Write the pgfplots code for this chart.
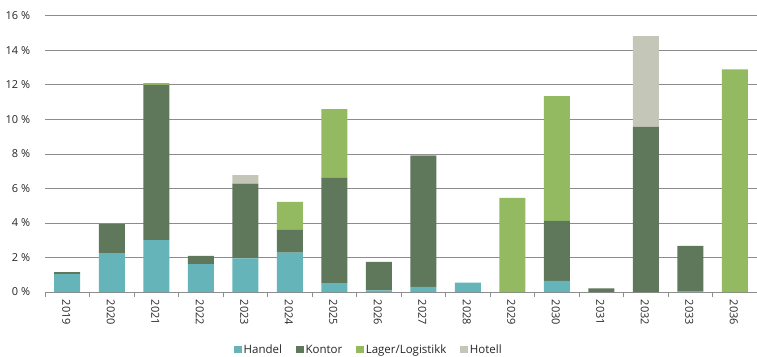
\documentclass[border=0pt]{standalone}
\usepackage{fontspec}
\setmainfont{Open Sans}
\usepackage{pgfplots}
\usepackage{pgfplotstable}
\pgfplotsset{compat=1.18}
\definecolor{handel}{HTML}{64B4B9}
\definecolor{kontor}{HTML}{5F775B}
\definecolor{lager}{HTML}{93BA61}
\definecolor{hotell}{HTML}{C4C6B8}
\definecolor{gridc}{HTML}{8C8C8C}
\pgfplotstableread{
x Handel Kontor Lager Hotell
0 1.04 0.11 0 0
1 2.26 1.68 0 0
2 3.01 9.0 0.1 0
3 1.62 0.47 0 0
4 1.95 4.33 0 0.5
5 2.28 1.32 1.62 0
6 0.48 6.14 3.98 0
7 0.1 1.64 0 0
8 0.3 7.6 0 0.05
9 0.55 0 0 0
10 0 0 5.45 0
11 0.64 3.49 7.23 0
12 0 0.21 0 0
13 0 9.57 0 5.27
14 0.05 2.62 0 0
15 0 0 12.9 0
}\datatable
\begin{document}
\begin{tikzpicture}
\path[use as bounding box] (-45pt,-64pt) rectangle (712pt,292pt);
\begin{axis}[
  scale only axis, width=712pt, height=276pt,
  ybar stacked, bar width=26pt,
  xmin=-0.5, xmax=15.5, ymin=0, ymax=16,
  xtick={0,...,15},
  xticklabels={2019,2020,2021,2022,2023,2024,2025,2026,2027,2028,2029,2030,2031,2032,2033,2036},
  minor xtick={-0.5,0.5,...,15.5},
  ytick={0,2,...,16},
  yticklabel={\pgfmathprintnumber{\tick} \%},
  /pgf/number format/assume math mode=true,
  major x tick style={draw=none},
  minor x tick style={draw=gridc, line width=0.8pt},
  minor tick length=5pt,
  tick align=outside,
  major y tick style={draw=none},
  ymajorgrids, grid style={gridc, line width=1pt},
  axis x line*=bottom, axis y line*=left,
  x axis line style={gridc, line width=1pt, -},
  y axis line style={draw=none},
  tick label style={font=\fontsize{11}{13}\selectfont, text=black!85},
  xticklabel style={rotate=-90, anchor=west, yshift=-1pt},
  yticklabel style={xshift=-7pt},
  legend style={draw=none, at={(0.455,-0.210)}, anchor=center, legend columns=4,
    font=\fontsize{11.5}{13}\selectfont, text=black!85,
    /tikz/every even column/.append style={column sep=12pt}},
  legend image code/.code={\fill[#1] (0pt,-3.5pt) rectangle (7.5pt,4pt);},
]
\addplot[fill=handel, draw=none] table[x=x, y=Handel]{\datatable};
\addplot[fill=kontor, draw=none] table[x=x, y=Kontor]{\datatable};
\addplot[fill=lager, draw=none] table[x=x, y=Lager]{\datatable};
\addplot[fill=hotell, draw=none] table[x=x, y=Hotell]{\datatable};
\legend{Handel, Kontor, Lager/Logistikk, Hotell}
\end{axis}
\end{tikzpicture}
\end{document}
